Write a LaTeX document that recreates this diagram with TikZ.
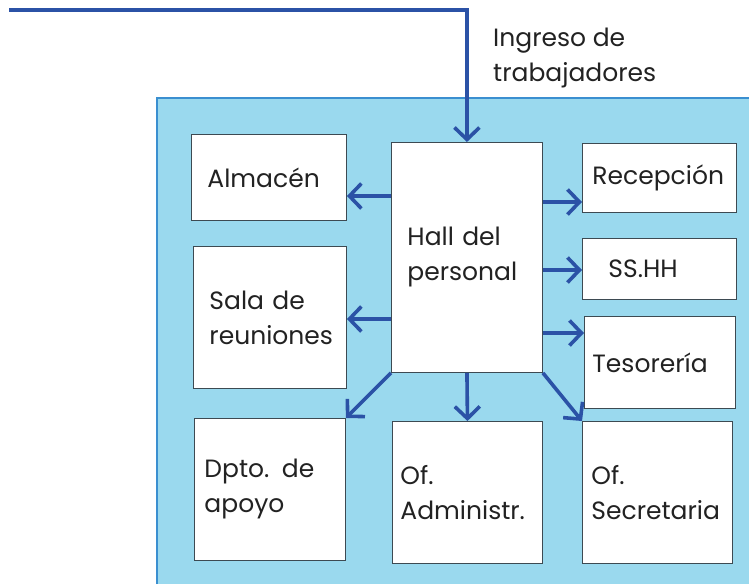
\documentclass[tikz,border=0pt]{standalone}
\usepackage{fontspec}
\setmainfont{Poppins}
\usetikzlibrary{arrows.meta}
\definecolor{linkblue}{HTML}{2B52A6}
\definecolor{bgblue}{HTML}{9AD9EE}
\definecolor{bgedge}{HTML}{3A8FD0}
\definecolor{boxedge}{HTML}{3D4A52}
\definecolor{txt}{HTML}{222222}
\tikzset{
  lbl/.style={text=txt, font=\fontsize{25}{35}\selectfont},
  box/.style={lbl, draw=boxedge, fill=white, line width=0.9pt, anchor=north west,
    align=left, inner ysep=0pt},
  conn/.style={draw=linkblue, line width=3.6pt,
    -{Straight Barb[length=12pt,width=25pt,line width=3.6pt]}},
}
\begin{document}
\begin{tikzpicture}[x=1pt,y=-1pt]
\useasboundingbox (0,0) rectangle (749,584);
\fill[bgblue] (157,98) rectangle (749,584);
\draw[bgedge, line width=2pt] (157,584) -- (157,98) -- (749,98);

\node[box, minimum height=86, text width=123, inner xsep=16] (alm) at (191,134) {Almacén};
\node[box, minimum height=142, text width=121, inner xsep=16] (sala) at (193,246) {Sala de\\reuniones};
\node[box, minimum height=230, text width=119, inner xsep=16] (hall) at (391,142) {Hall del\\personal};
\node[box, minimum height=69, text width=134, inner xsep=10] (rec) at (582,143) {Recepción};
\node[box, minimum height=61, text width=102, inner xsep=26] (ss) at (582,238) {SS.HH};
\node[box, minimum height=92, text width=135, inner xsep=8] (tes) at (584,316) {Tesorería};
\node[box, minimum height=142, text width=131, inner xsep=10] (dpto) at (194,418) {Dpto. de\\apoyo};
\node[box, minimum height=142, text width=134, inner xsep=8] (adm) at (392,421) {Of.\\Administr.};
\node[box, minimum height=142, text width=132, inner xsep=9] (sec) at (582,421) {Of.\\Secretaria};

\node[lbl, anchor=north west, align=left, inner sep=0pt] (ing) at (493,28) {Ingreso de\\trabajadores};

\coordinate (start) at (9,10);
\draw[conn] (start) -| (hall.north);
\draw[conn] (hall.west |- 0,196) -- (alm.east |- 0,196);
\draw[conn] (hall.west |- 0,319) -- (sala.east |- 0,319);
\draw[conn] (hall.east |- 0,202) -- (rec.west |- 0,202);
\draw[conn] (hall.east |- 0,270) -- (ss.west |- 0,270);
\draw[conn] (hall.east |- 0,333) -- (tes.west |- 0,333);
\draw[conn] (hall.south west) -- (dpto.north east);
\draw[conn] (hall.south) -- (adm.north);
\draw[conn] (hall.south east) -- (sec.north west);
\end{tikzpicture}
\end{document}
